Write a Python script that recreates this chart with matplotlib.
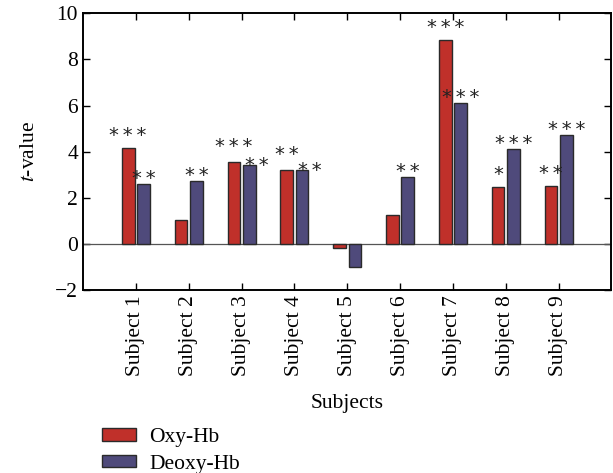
#!/usr/bin/env python
"""Grouped bar chart of t-values for Oxy-Hb and Deoxy-Hb per subject."""

import matplotlib
matplotlib.use("Agg")
import matplotlib.pyplot as plt
import numpy as np

subjects = ["Subject 1", "Subject 2", "Subject 3", "Subject 4", "Subject 5",
            "Subject 6", "Subject 7", "Subject 8", "Subject 9"]
oxy_hb = [4.16, 1.06, 3.57, 3.22, -0.17, 1.27, 8.84, 2.47, 2.54]
deoxy_hb = [2.60, 2.73, 3.42, 3.22, -0.97, 2.91, 6.13, 4.13, 4.74]
oxy_stars = ["***", "", "***", "**", "", "", "***", "*", "**"]
deoxy_stars = ["**", "**", "**", "**", "", "**", "***", "***", "***"]

plt.rcParams["font.family"] = ["Liberation Serif", "DejaVu Serif"]
plt.rcParams["mathtext.fontset"] = "stix"

RED = "#c0302a"
BLUE = "#4f4a7b"
EDGE = "#2a2a2a"
FS = 15.5

fig = plt.figure(figsize=(6.13, 4.73), dpi=100)
ax = fig.add_axes([0.1354, 0.386, 0.862, 0.586])

x = np.arange(1, len(subjects) + 1)
w = 0.24
off = 0.145
ax.bar(x - off, oxy_hb, w, color=RED, edgecolor=EDGE, linewidth=1.0, label="Oxy-Hb", zorder=3)
ax.bar(x + off, deoxy_hb, w, color=BLUE, edgecolor=EDGE, linewidth=1.0, label="Deoxy-Hb", zorder=3)
ax.axhline(0, color="#555555", linewidth=0.9, zorder=2)


def stars(s):
    return "\u2009".join(s)


# star glyphs sit high in the text box, so nudge the box down a bit
lift = -0.22
star_kw = dict(ha="center", va="center", fontsize=14, family="DejaVu Sans", color="#222222")
for xi, vo, vd, so, sd in zip(x, oxy_hb, deoxy_hb, oxy_stars, deoxy_stars):
    close = bool(so) and bool(sd) and abs(vo - vd) < 1.0
    if so:
        ax.text(xi - off, vo + (0.9 if close else 0.75) + lift, stars(so), **star_kw)
    if sd:
        dx = 0.14 if close else 0.0
        dy = 0.2 if close else 0.45
        ax.text(xi + off + dx, vd + dy + lift, stars(sd), **star_kw)

ax.set_xlim(0, 10)
ax.set_ylim(-2, 10)
ax.set_yticks([-2, 0, 2, 4, 6, 8, 10])
ax.set_yticklabels(["\u22122", "0", "2", "4", "6", "8", "10"])
ax.set_xticks(x)
ax.set_xticklabels(subjects, rotation=90, fontsize=FS)
ax.tick_params(axis="y", labelsize=FS)
ax.tick_params(direction="in", top=True, right=True, length=5, width=1.0)
for sp in ax.spines.values():
    sp.set_linewidth(1.4)

ax.set_ylabel(r"$t$-value", fontsize=FS, labelpad=12)
ax.set_xlabel("Subjects", fontsize=FS, labelpad=13)

ax.legend(loc="upper left", bbox_to_anchor=(0.166, 0.095), bbox_transform=fig.transFigure,
          frameon=False, fontsize=FS, handlelength=1.6, handleheight=0.5,
          labelspacing=0.35, handletextpad=0.6, borderaxespad=0, borderpad=0)

fig.savefig("out.png", dpi=100)
